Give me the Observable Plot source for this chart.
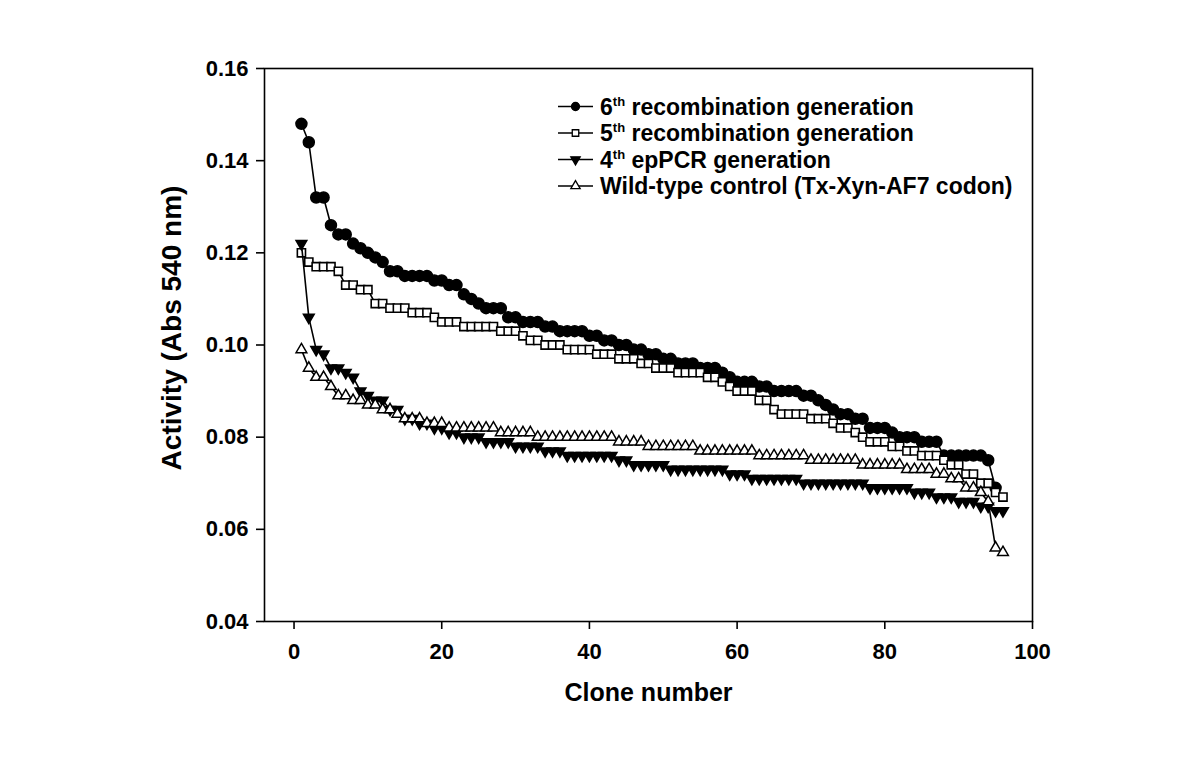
<!DOCTYPE html>
<html><head><meta charset="utf-8">
<script src="https://cdn.jsdelivr.net/npm/d3@7"></script>
<script src="https://cdn.jsdelivr.net/npm/@observablehq/plot@0.6"></script>
<style>
body{margin:0;background:#fff;}
#chart{position:relative;width:1200px;height:783px;}
</style></head><body><div id="chart"></div>
<script>
// Clone numbers (x categories)
const clone = [1,2,3,4,5,6,7,8,9,10,11,12,13,14,15,16,17,18,19,20,21,22,23,24,25,26,27,28,29,30,31,32,33,34,35,36,37,38,39,40,41,42,43,44,45,46,47,48,49,50,51,52,53,54,55,56,57,58,59,60,61,62,63,64,65,66,67,68,69,70,71,72,73,74,75,76,77,78,79,80,81,82,83,84,85,86,87,88,89,90,91,92,93,94,95,96];

// 6th recombination generation (filled circles)
const gen6 = [0.148,0.144,0.132,0.132,0.126,0.124,0.124,0.122,0.121,0.120,0.119,0.118,0.116,0.116,0.115,0.115,0.115,0.115,0.114,0.114,0.113,0.113,0.111,0.110,0.109,0.108,0.108,0.108,0.106,0.106,0.105,0.105,0.105,0.104,0.104,0.103,0.103,0.103,0.103,0.102,0.102,0.101,0.101,0.100,0.100,0.099,0.099,0.098,0.098,0.097,0.097,0.096,0.096,0.096,0.095,0.095,0.095,0.094,0.093,0.092,0.092,0.092,0.091,0.091,0.090,0.090,0.090,0.090,0.089,0.089,0.088,0.087,0.086,0.085,0.085,0.084,0.084,0.082,0.082,0.082,0.081,0.080,0.080,0.080,0.079,0.079,0.079,0.076,0.076,0.076,0.076,0.076,0.076,0.075,0.069];

// 5th recombination generation (open squares)
const gen5 = [0.120,0.118,0.117,0.117,0.117,0.116,0.113,0.113,0.112,0.112,0.109,0.109,0.108,0.108,0.108,0.107,0.107,0.107,0.106,0.105,0.105,0.105,0.104,0.104,0.104,0.104,0.104,0.103,0.103,0.103,0.102,0.101,0.101,0.100,0.100,0.100,0.099,0.099,0.099,0.099,0.098,0.098,0.098,0.097,0.097,0.097,0.096,0.096,0.095,0.095,0.095,0.094,0.094,0.094,0.094,0.093,0.093,0.092,0.091,0.090,0.090,0.090,0.088,0.088,0.086,0.085,0.085,0.085,0.085,0.084,0.084,0.084,0.083,0.082,0.082,0.081,0.080,0.079,0.079,0.079,0.078,0.078,0.077,0.077,0.076,0.076,0.076,0.075,0.074,0.074,0.072,0.072,0.070,0.070,0.068,0.067];

// 4th epPCR generation (filled down-triangles)
const gen4 = [0.122,0.106,0.099,0.098,0.095,0.095,0.094,0.093,0.090,0.089,0.088,0.088,0.086,0.086,0.084,0.084,0.083,0.083,0.082,0.082,0.081,0.081,0.080,0.080,0.080,0.079,0.079,0.079,0.079,0.078,0.078,0.078,0.078,0.077,0.077,0.077,0.076,0.076,0.076,0.076,0.076,0.076,0.076,0.075,0.075,0.074,0.074,0.074,0.074,0.074,0.073,0.073,0.073,0.073,0.073,0.073,0.073,0.073,0.072,0.072,0.072,0.071,0.071,0.071,0.071,0.071,0.071,0.071,0.070,0.070,0.070,0.070,0.070,0.070,0.070,0.070,0.070,0.069,0.069,0.069,0.069,0.069,0.069,0.068,0.068,0.068,0.067,0.067,0.067,0.066,0.066,0.066,0.065,0.065,0.064,0.064];

// Wild-type control (open up-triangles)
const wildType = [0.099,0.095,0.093,0.093,0.091,0.089,0.089,0.088,0.088,0.087,0.087,0.086,0.086,0.085,0.084,0.084,0.084,0.083,0.083,0.083,0.082,0.082,0.082,0.082,0.082,0.082,0.082,0.081,0.081,0.081,0.081,0.081,0.080,0.080,0.080,0.080,0.080,0.080,0.080,0.080,0.080,0.080,0.080,0.079,0.079,0.079,0.079,0.078,0.078,0.078,0.078,0.078,0.078,0.078,0.077,0.077,0.077,0.077,0.077,0.077,0.077,0.077,0.076,0.076,0.076,0.076,0.076,0.076,0.076,0.075,0.075,0.075,0.075,0.075,0.075,0.075,0.074,0.074,0.074,0.074,0.074,0.074,0.073,0.073,0.073,0.073,0.072,0.072,0.071,0.071,0.069,0.069,0.068,0.066,0.056,0.055];

const xTicks = [0, 20, 40, 60, 80, 100];
const yTicks = [0.04, 0.06, 0.08, 0.10, 0.12, 0.14, 0.16];
const legendOrdinals = ["6", "5", "4", ""];
const legendSups = ["th", "th", "th", ""];
const legendTexts = [" recombination generation", " recombination generation", " epPCR generation", "Wild-type control (Tx-Xyn-AF7 codon)"];
const xTitle = "Clone number";
const yTitle = "Activity (Abs 540 nm)";

const toRows = (vals) => vals.map((v, i) => ({clone: clone[i], activity: v}));
const d6 = toRows(gen6), d5 = toRows(gen5), d4 = toRows(gen4), dw = toRows(wildType);

const font = "'Liberation Sans', Arial, sans-serif";
const lineOpts = {x: "clone", y: "activity", stroke: "#000", strokeWidth: 1.6};

const plot = Plot.plot({
  width: 1200, height: 783,
  marginLeft: 264, marginRight: 168, marginTop: 68, marginBottom: 162,
  style: {fontFamily: font, fontWeight: "bold", background: "#fff", color: "#000"},
  x: {domain: [-4, 100]},
  y: {domain: [0.04, 0.16]},
  marks: [
    Plot.frame({stroke: "#000", strokeWidth: 1.6}),
    Plot.axisY({ticks: yTicks, tickSize: 8, tickPadding: 8, tickFormat: d3.format(".2f"), fontSize: 22, fontWeight: "bold", label: null, strokeWidth: 1.6}),
    Plot.axisX({ticks: xTicks, tickSize: 8, tickPadding: 14, tickFormat: d3.format("d"), fontSize: 22, fontWeight: "bold", label: null, strokeWidth: 1.6}),
    Plot.text([xTitle], {frameAnchor: "bottom", textAnchor: "middle", dy: 79, fontSize: 25, fontWeight: "bold", fill: "#000"}),
    Plot.text([yTitle], {frameAnchor: "left", textAnchor: "middle", dx: -92, dy: -17, rotate: -90, fontSize: 28, fontWeight: "bold", fill: "#000"}),
    Plot.line(d6, lineOpts),
    Plot.dot(d6, {x: "clone", y: "activity", symbol: "circle", r: 5.5, fill: "#000", stroke: "#000"}),
    Plot.line(d5, lineOpts),
    Plot.dot(d5, {x: "clone", y: "activity", symbol: "square", r: 4.6, fill: "#fff", stroke: "#000", strokeWidth: 1.6}),
    Plot.line(d4, lineOpts),
    Plot.dot(d4, {x: "clone", y: "activity", symbol: "triangle", rotate: 180, r: 4, fill: "#000", stroke: "#000"}),
    Plot.line(dw, lineOpts),
    Plot.dot(dw, {x: "clone", y: "activity", symbol: "triangle", r: 4, fill: "#fff", stroke: "#000", strokeWidth: 1.5})
  ]
});

// Legend inside the plot area (top right)
const svg = d3.select(plot);
const lg = svg.append("g").attr("font-family", font).attr("font-weight", "bold").attr("text-anchor", "start");
const symDefs = [
  {type: d3.symbolCircle, size: 50, fill: "#000", rot: 0},
  {type: d3.symbolSquare, size: 42, fill: "#fff", rot: 0},
  {type: d3.symbolTriangle, size: 38, fill: "#000", rot: 180},
  {type: d3.symbolTriangle, size: 38, fill: "#fff", rot: 0}
];
const rowY = [106.5, 133, 159.5, 186];
legendTexts.forEach((t, i) => {
  const g = lg.append("g").attr("transform", `translate(0,${rowY[i]})`);
  g.append("line").attr("x1", 558).attr("x2", 593).attr("y1", 0).attr("y2", 0).attr("stroke", "#000").attr("stroke-width", 1.6);
  g.append("path").attr("d", d3.symbol(symDefs[i].type, symDefs[i].size)())
    .attr("transform", `translate(575.5,0) rotate(${symDefs[i].rot})`)
    .attr("fill", symDefs[i].fill).attr("stroke", "#000").attr("stroke-width", 1.3);
  const tx = g.append("text").attr("x", 600).attr("y", 8).attr("text-anchor", "start").attr("font-size", 23).attr("fill", "#000");
  if (legendOrdinals[i]) {
    tx.append("tspan").text(legendOrdinals[i]);
    tx.append("tspan").attr("font-size", 13).attr("dy", -9).text(legendSups[i]);
    tx.append("tspan").attr("dy", 9).text(legendTexts[i]);
  } else {
    tx.text(legendTexts[i]);
  }
});

document.getElementById("chart").appendChild(plot);
</script>
</body></html>
